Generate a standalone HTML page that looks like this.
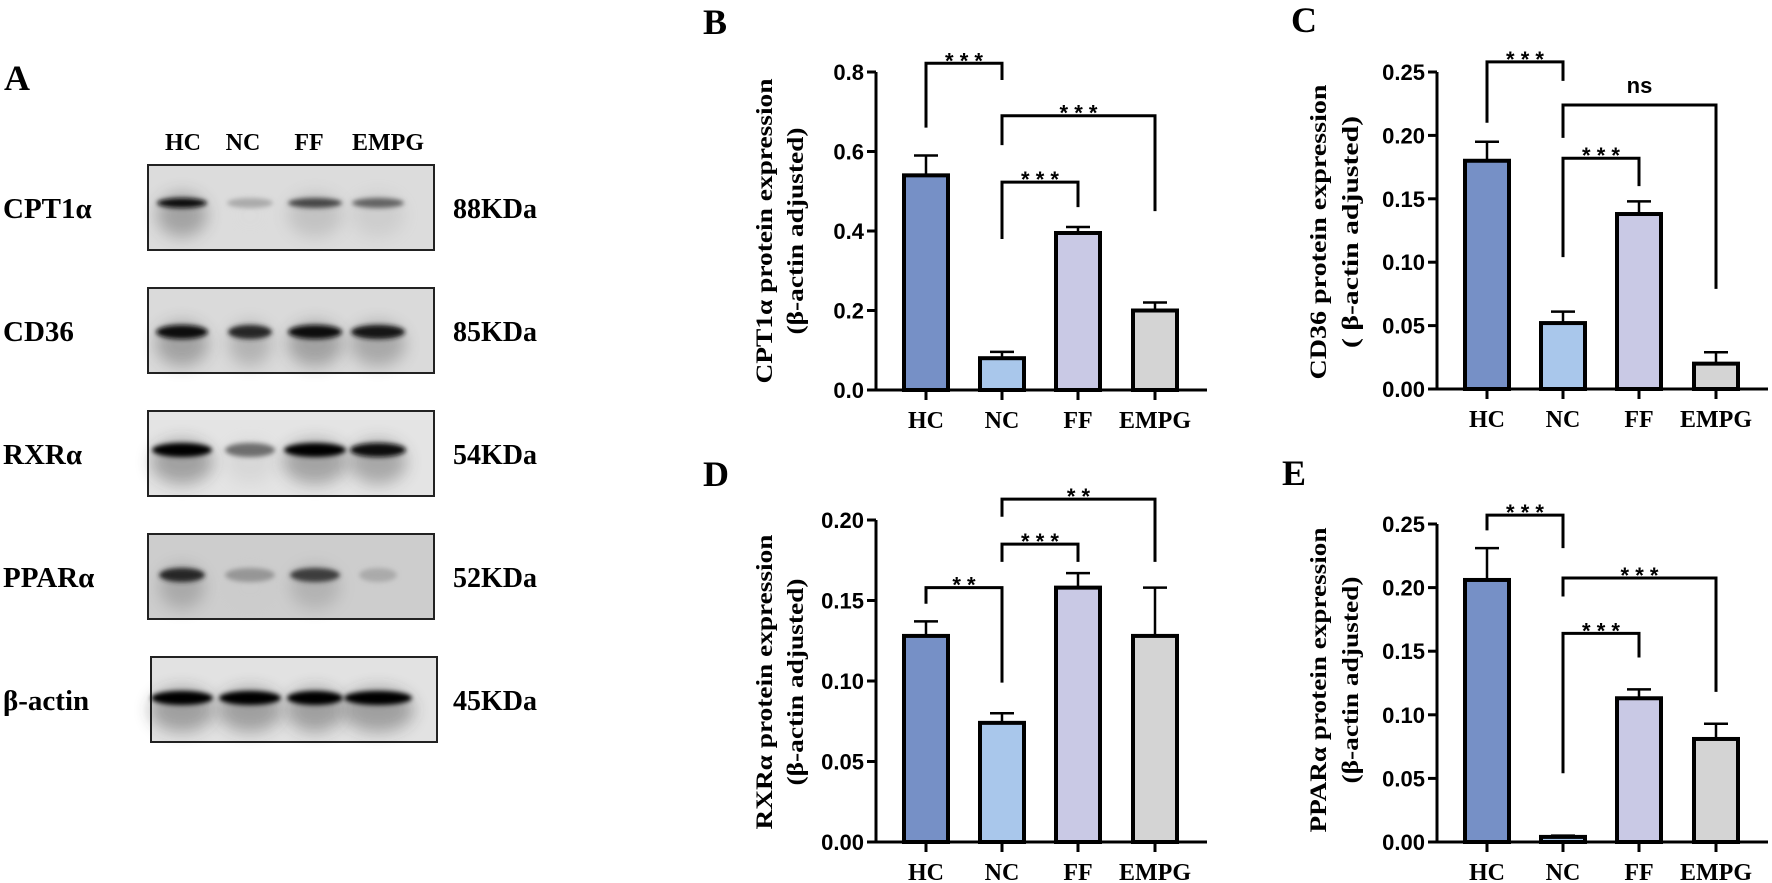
<!DOCTYPE html>
<html><head><meta charset="utf-8"><style>
html,body{margin:0;padding:0;background:#fff}
svg{display:block}
.tk{font-family:"Liberation Sans",Arial,sans-serif;font-weight:bold;font-size:22px}
.sf{font-family:"Liberation Serif","Times New Roman",serif;font-weight:bold}
</style></head><body>
<svg id="fig" width="1772" height="883" viewBox="0 0 1772 883" xmlns="http://www.w3.org/2000/svg">
<defs>
<filter id="blur2" x="-30%" y="-100%" width="160%" height="300%"><feGaussianBlur stdDeviation="2.5"/></filter>
<filter id="blur6" x="-30%" y="-100%" width="160%" height="300%"><feGaussianBlur stdDeviation="8"/></filter>
</defs>
<g id="blot"></g>
<g id="charts"></g>
</svg>
<script>
// ---------- data ----------
const categories = ["HC","NC","FF","EMPG"];
const barColors = ["#7690c6","#a9c7eb","#c9c9e5","#d4d4d4"];

const bValues = [0.54, 0.08, 0.395, 0.20];
const bErrors = [0.05, 0.016, 0.015, 0.02];
const bTicks = [0, 0.2, 0.4, 0.6, 0.8];
const bTickLabels = ["0.0","0.2","0.4","0.6","0.8"];

const cValues = [0.18, 0.052, 0.138, 0.020];
const cErrors = [0.015, 0.009, 0.010, 0.009];
const cTicks = [0, 0.05, 0.10, 0.15, 0.20, 0.25];
const cTickLabels = ["0.00","0.05","0.10","0.15","0.20","0.25"];

const dValues = [0.128, 0.074, 0.158, 0.128];
const dErrors = [0.009, 0.006, 0.009, 0.030];
const dTicks = [0, 0.05, 0.10, 0.15, 0.20];
const dTickLabels = ["0.00","0.05","0.10","0.15","0.20"];

const eValues = [0.206, 0.004, 0.113, 0.081];
const eErrors = [0.025, 0.001, 0.007, 0.012];
const eTicks = [0, 0.05, 0.10, 0.15, 0.20, 0.25];
const eTickLabels = ["0.00","0.05","0.10","0.15","0.20","0.25"];

// brackets: [fromIdx, toIdx, topValue, leftLegEnd, rightLegEnd, label]
const bBrackets = [[0,1,0.822,0.66,0.78,"* * *"],[1,3,0.69,0.616,0.45,"* * *"],[1,2,0.523,0.38,0.46,"* * *"]];
const cBrackets = [[0,1,0.258,0.21,0.243,"* * *"],[1,3,0.224,0.198,0.079,"ns"],[1,2,0.182,0.104,0.160,"* * *"]];
const dBrackets = [[0,1,0.158,0.148,0.099,"* *"],[1,2,0.185,0.174,0.174,"* * *"],[1,3,0.213,0.202,0.174,"* *"]];
const eBrackets = [[0,1,0.257,0.245,0.231,"* * *"],[1,3,0.2075,0.193,0.118,"* * *"],[1,2,0.164,0.054,0.145,"* * *"]];

const NS = "http://www.w3.org/2000/svg";
function mk(tag, attrs, parent){
  const el = document.createElementNS(NS, tag);
  for (const k in attrs) el.setAttribute(k, attrs[k]);
  parent.appendChild(el);
  return el;
}

function drawChart(cfg){
  const g = mk("g", {}, document.getElementById("charts"));
  
  
  const maxV = cfg.ticks[cfg.ticks.length-1];
  const y = v => cfg.y0 - (v / maxV) * (cfg.y0 - cfg.yTop);
  const x = i => cfg.ax + [50,126,202,279][i];
  const L = mk("text", {x:cfg.letterX, y:cfg.letterY, class:"sf", "font-size":"36"}, g);
  L.textContent = cfg.letter;
  
  
  cfg.values.forEach((v,i) => {
    const bw = 44;
    const r = mk("rect", {x:x(i)-bw/2, y:y(v), width:bw, height:cfg.y0-y(v), fill:barColors[i], stroke:"#000", "stroke-width":4}, g);
    
    
    const top = y(v + cfg.errors[i]);
    const eb = mk("path", {d:`M${x(i)} ${y(v)} V${top} M${x(i)-12} ${top} H${x(i)+12}`, stroke:"#000", "stroke-width":2.5, fill:"none"}, g);
    
    
  });
  const ya = mk("path", {d:`M${cfg.ax} ${y(maxV)} V${cfg.y0}`, stroke:"#000", "stroke-width":3, fill:"none"}, g);
  
  
  const xa = mk("path", {d:`M${cfg.ax-9} ${cfg.y0} H${cfg.ax+331}`, stroke:"#000", "stroke-width":3, fill:"none"}, g);
  
  
  cfg.ticks.forEach((t,j) => {
    mk("path", {d:`M${cfg.ax-9} ${y(t)} H${cfg.ax}`, stroke:"#000", "stroke-width":3}, g);
    const tl = mk("text", {x:cfg.ax-12, y:y(t)+8, class:"tk", "font-size":"23"}, g);
    tl.setAttribute("text-anchor","end");
    tl.textContent = cfg.tickLabels[j];
    
    
  });
  categories.forEach((c,i) => {
    mk("path", {d:`M${x(i)} ${cfg.y0} V${cfg.y0+10}`, stroke:"#000", "stroke-width":3}, g);
    const cl = mk("text", {x:x(i), y:cfg.y0+38, class:"sf", "font-size":"24", "text-anchor":"middle"}, g);
    cl.textContent = c;
    
    
  });
  cfg.brackets.forEach(b => {
    const x1 = x(b[0]), x2 = x(b[1]), yt = y(b[2]);
    const p = mk("path", {d:`M${x1} ${y(b[3])} V${yt} H${x2} V${y(b[4])}`, stroke:"#000", "stroke-width":3, fill:"none"}, g);
    
    
    const isNs = b[5] === "ns";
    const st = mk("text", {x:(x1+x2)/2, y: isNs ? yt-12 : yt+5, class:"tk", "font-size": isNs ? "23" : "36", "text-anchor":"middle"}, g);
    st.textContent = b[5];
    
    
  });
  const t1 = mk("text", {class:"sf", "font-size":"23", "text-anchor":"middle", transform:`translate(${cfg.tx1},${cfg.tcy}) rotate(-90)`, textLength:cfg.len1, lengthAdjust:"spacingAndGlyphs"}, g);
  t1.textContent = cfg.title1;
  
  
  const t2 = mk("text", {class:"sf", "font-size":"23", "text-anchor":"middle", transform:`translate(${cfg.tx2},${cfg.tcy}) rotate(-90)`, textLength:cfg.len2, lengthAdjust:"spacingAndGlyphs"}, g);
  t2.textContent = cfg.title2;
  
  
}

drawChart({name:"chart-b-cpt1a", letter:"B", letterX:703, letterY:34, ax:876, y0:390, yTop:72, values:bValues, errors:bErrors, ticks:bTicks, tickLabels:bTickLabels, brackets:bBrackets, title1:"CPT1α protein expression", title2:"(β-actin adjusted)", tx1:772, tx2:803, tcy:231, len1:305, len2:207});
drawChart({name:"chart-c-cd36", letter:"C", letterX:1291, letterY:32, ax:1437, y0:389, yTop:72, values:cValues, errors:cErrors, ticks:cTicks, tickLabels:cTickLabels, brackets:cBrackets, title1:"CD36 protein expression", title2:"( β-actin adjusted)", tx1:1326, tx2:1358, tcy:232, len1:295, len2:232});
drawChart({name:"chart-d-rxra", letter:"D", letterX:703, letterY:486, ax:876, y0:842, yTop:520, values:dValues, errors:dErrors, ticks:dTicks, tickLabels:dTickLabels, brackets:dBrackets, title1:"RXRα protein expression", title2:"(β-actin adjusted)", tx1:772, tx2:803, tcy:682, len1:295, len2:207});
drawChart({name:"chart-e-ppara", letter:"E", letterX:1282, letterY:485, ax:1437, y0:842, yTop:524, values:eValues, errors:eErrors, ticks:eTicks, tickLabels:eTickLabels, brackets:eBrackets, title1:"PPARα protein expression", title2:"(β-actin adjusted)", tx1:1326, tx2:1358, tcy:680, len1:305, len2:207});

// ---------- western blot ----------
const blotRows = ["CPT1α","CD36","RXRα","PPARα","β-actin"];
const blotKDa = ["88KDa","85KDa","54KDa","52KDa","45KDa"];
const blotTops = [165, 288, 411, 534, 657];
const blotBg = ["#dcdcdc","#dadada","#e4e4e4","#cdcdcd","#e2e2e2"];
const bandDark = [[0.95,0.15,0.65,0.5],[0.95,0.8,0.95,0.9],[1.0,0.45,0.98,0.95],[0.8,0.25,0.7,0.15],[1.0,1.0,1.0,1.0]];
const bandWidth = [[42,38,46,44],[44,36,46,46],[52,42,54,48],[38,42,42,30],[54,54,48,60]];
const laneX = [182, 250, 315, 378];
const bandOffset = [38, 44, 39, 41, 41];

(function(){
  const g = document.getElementById("blot");
  const A = mk("text", {x:4, y:90, class:"sf", "font-size":"36"}, g);
  A.textContent = "A";
  
  
  categories.forEach((c,i) => {
    const t = mk("text", {x:[183,243,309,388][i], y:150, class:"sf", "font-size":"24", "text-anchor":"middle"}, g);
    t.textContent = c;
    
    
  });
  blotRows.forEach((r,k) => {
    const top = blotTops[k];
    const bx = k === 4 ? 151 : 148;
    const box = mk("rect", {x:bx, y:top, width:286, height:85, fill:blotBg[k], stroke:"#222", "stroke-width":2}, g);
    
    
    laneX.forEach((lx,i) => {
      const d = bandDark[k][i];
      const shade = Math.round(200 - d*200);
      mk("ellipse", {cx:lx, cy:top+bandOffset[k]+12, rx:bandWidth[k][i]*0.6, ry:22, fill:`rgb(${shade+40},${shade+40},${shade+40})`, opacity:0.35*d, filter:"url(#blur6)"}, g);
      const band = mk("ellipse", {cx:lx, cy:top+bandOffset[k], rx:bandWidth[k][i]/2+4, ry:k===0?5:7, fill:`rgb(${shade},${shade},${shade})`, filter:"url(#blur2)"}, g);
      
      
    });
    const lbl = mk("text", {x:3, y:top+53, class:"sf", "font-size":"29"}, g);
    lbl.textContent = r;
    
    
    const kd = mk("text", {x:453, y:top+53, class:"sf", "font-size":"28"}, g);
    kd.textContent = blotKDa[k];
    
    
  });
})();
</script>
</body></html>
